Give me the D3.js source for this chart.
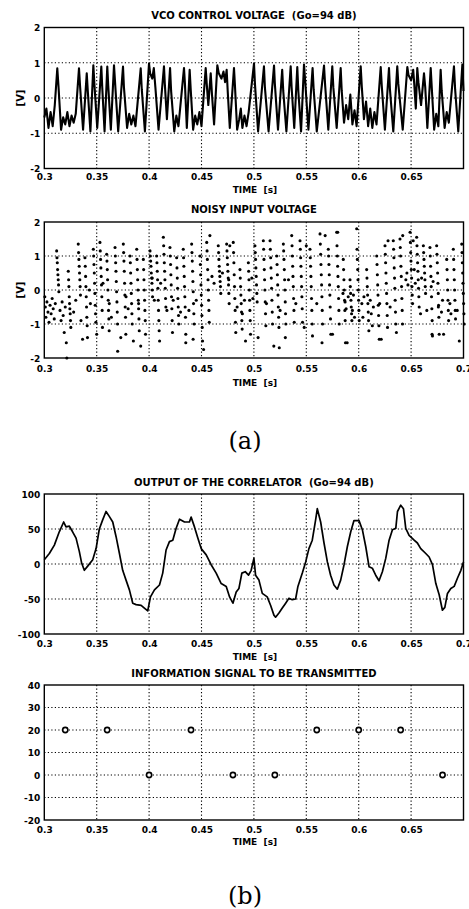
<!DOCTYPE html>
<html><head><meta charset="utf-8">
<script src="https://cdnjs.cloudflare.com/ajax/libs/d3/7.8.5/d3.min.js"></script>
<style>
html,body{margin:0;padding:0;background:#fff;}
svg{display:block;}
text{font-family:"DejaVu Sans",sans-serif;font-weight:bold;fill:#000;white-space:pre;}
</style></head><body>
<script>
// ---------- DATA ----------
const xTicks = [0.3,0.35,0.4,0.45,0.5,0.55,0.6,0.65,0.7];
const xTickLabels = ["0.3","0.35","0.4","0.45","0.5","0.55","0.6","0.65","0.7"];
const voltTicks = [-2,-1,0,1,2];
const corrTicks = [-100,-50,0,50,100];
const infoTicks = [-20,-10,0,10,20,30,40];

// VCO control voltage (vertices of the trace)
const vcoT = [0.3000,0.3020,0.3040,0.3060,0.3080,0.3100,0.3124,0.3135,0.3160,0.3180,0.3200,0.3220,0.3240,0.3260,0.3280,0.3300,
0.3331,0.3342,0.3370,0.3405,0.3415,0.3440,0.3468,0.3478,0.3505,0.3544,0.3553,0.3575,0.3601,0.3610,0.3635,0.3665,0.3675,0.3705,
0.3751,0.3760,0.3790,0.3810,0.3830,0.3850,0.3870,0.3920,0.3930,0.3960,0.3999,0.4010,0.4030,0.4045,0.4060,0.4090,0.4142,0.4150,
0.4170,0.4200,0.4210,0.4240,0.4260,0.4280,0.4333,0.4342,0.4360,0.4387,0.4397,0.4420,0.4440,0.4460,0.4480,0.4500,0.4540,0.4550,
0.4565,0.4588,0.4600,0.4620,0.4651,0.4665,0.4690,0.4710,0.4725,0.4740,0.4750,0.4770,0.4810,0.4820,0.4840,0.4860,0.4875,0.4890,
0.4910,0.4930,0.4950,0.5001,0.5010,0.5040,0.5096,0.5105,0.5140,0.5192,0.5200,0.5230,0.5270,0.5280,0.5310,0.5351,0.5360,0.5385,
0.5414,0.5424,0.5450,0.5478,0.5490,0.5520,0.5560,0.5570,0.5600,0.5669,0.5680,0.5710,0.5748,0.5758,0.5790,0.5828,0.5838,0.5860,
0.5880,0.5900,0.5920,0.5940,0.5960,0.5980,0.6019,0.6030,0.6050,0.6070,0.6090,0.6110,0.6130,0.6150,0.6170,0.6210,0.6220,0.6250,
0.6289,0.6298,0.6330,0.6368,0.6378,0.6420,0.6464,0.6475,0.6500,0.6520,0.6530,0.6545,0.6559,0.6570,0.6595,0.6623,0.6635,0.6655,
0.6687,0.6697,0.6720,0.6740,0.6760,0.6782,0.6792,0.6820,0.6840,0.6860,0.6909,0.6920,0.6950,0.6989,0.7000];
const vcoV = [-0.55,-0.30,-0.85,-0.40,-0.80,-0.20,0.84,0.35,-0.90,-0.55,-0.75,-0.40,-0.80,-0.50,-0.70,-0.45,
0.84,0.30,-0.90,0.70,0.20,-0.95,0.93,0.40,-0.85,0.89,0.30,-0.95,0.89,0.35,-0.90,0.93,0.45,-0.95,
0.89,0.30,-0.85,-0.45,-0.75,-0.50,-0.80,0.84,0.25,-0.95,0.98,0.70,0.55,0.85,0.30,-0.90,0.90,0.40,
-0.60,0.85,0.20,-0.95,-0.50,-0.80,0.85,0.40,-0.85,0.80,0.25,-0.90,-0.50,-0.75,-0.40,-0.80,0.85,0.40,
-0.20,0.70,0.10,-0.75,0.93,0.70,0.55,0.75,0.45,0.80,0.20,-0.85,0.85,0.30,-0.90,-0.60,-0.30,-0.85,
-0.50,-0.80,-0.40,0.98,0.40,-0.95,0.90,0.30,-0.95,0.92,0.40,-0.90,0.80,0.20,-0.95,0.90,0.30,-0.85,
0.88,0.20,-0.95,0.95,0.45,-0.90,0.85,0.25,-0.95,0.92,0.35,-0.90,0.90,0.30,-0.85,0.85,0.20,-0.70,
-0.20,-0.60,0.10,-0.75,-0.35,-0.80,0.90,0.30,-0.60,-0.10,-0.80,-0.30,-0.85,-0.40,-0.75,0.88,0.35,-0.90,
0.85,0.25,-0.95,0.90,0.40,-0.90,0.88,0.65,0.50,0.80,0.40,-0.30,0.85,0.45,-0.20,0.70,0.30,-0.85,
0.85,0.30,-0.90,-0.45,-0.80,0.80,0.20,-0.85,-0.40,-0.70,0.90,0.25,-0.95,0.95,0.20];

// Noisy input voltage: streaks of consecutive samples (start time, values) ...
const noisySampleStep = 0.0003;
const noisyColT = [0.3118,0.3229,0.3324,0.3388,0.3468,0.3531,0.3595,0.3675,0.3754,0.3818,0.3882,0.3945,0.4009,0.4072,0.4136,
0.4199,0.4263,0.4326,0.4406,0.4486,0.4550,0.4660,0.4740,0.4803,0.4867,0.4947,0.5010,0.5090,0.5154,0.5218,0.5281,0.5361,0.5440,
0.5535,0.5631,0.5710,0.5790,0.5853,0.5917,0.5981,0.6076,0.6172,0.6251,0.6330,0.6394,0.6490,0.6553,0.6617,0.6680,0.6744,0.6840,
0.6903,0.6983];
const noisyColV = [
[1.15,0.95,0.8,0.6,0.45,0.3,0.15,-0.05],
[0.55,0.3,0.1,-0.2,-0.4,-0.55,-0.7,-0.9,-1.1],
[1.35,1.1,0.9,0.7,0.5,0.3,0.1,-0.15],
[0.95,0.7,0.4,0.1,-0.2,-0.5,-0.8,-1.05,-1.4],
[1.2,1.0,0.75,0.5,0.2,-0.1,-0.45,-0.7,-0.95],
[1.4,1.15,0.9,0.65,0.4,0.15,-0.2,-0.6,-1.1],
[1.05,0.85,0.6,0.3,0.0,-0.3,-0.6,-0.85,-1.2],
[1.25,1.0,0.8,0.55,0.25,-0.05,-0.35,-0.65,-1.0],
[1.35,1.1,0.85,0.55,0.2,-0.15,-0.5,-0.8,-1.3],
[1.0,0.8,0.5,0.2,-0.1,-0.4,-0.7,-1.0],
[1.2,0.9,0.6,0.3,0.0,-0.3,-0.55,-0.85,-1.2],
[0.9,0.6,0.3,0.0,-0.3,-0.6,-0.9,-1.3],
[1.15,1.0,0.85,0.7,0.5,0.35,0.2,0.0,-0.2],
[1.0,0.8,0.55,0.3,0.05,-0.3,-0.6,-0.9,-1.2],
[1.55,1.3,1.05,0.8,0.55,0.3,0.05,-0.25,-0.5],
[1.25,1.0,0.75,0.45,0.15,-0.2,-0.55,-0.9,-1.25],
[0.95,0.65,0.35,0.05,-0.25,-0.5,-0.75,-1.0],
[1.2,0.95,0.7,0.4,0.1,-0.2,-0.5,-0.8,-1.3],
[1.35,1.1,0.85,0.55,0.25,-0.05,-0.4,-0.7,-1.0],
[1.0,0.75,0.45,0.15,-0.15,-0.45,-0.75,-1.1,-1.5],
[1.4,1.15,0.9,0.6,0.3,0.0,-0.3,-0.6,-0.95],
[1.3,1.1,0.9,0.7,0.55,0.4,0.25,0.1,-0.1],
[1.35,1.15,0.95,0.75,0.55,0.35,0.15,-0.1,-0.4],
[1.4,1.1,0.8,0.45,0.1,-0.25,-0.6,-0.95,-1.25],
[0.6,0.35,0.1,-0.15,-0.4,-0.65,-0.9,-1.15],
[0.8,0.55,0.3,0.0,-0.3,-0.6,-0.9,-1.3],
[1.3,1.1,0.9,0.65,0.4,0.15,-0.1,-0.35],
[1.45,1.2,0.9,0.6,0.3,0.0,-0.35,-0.7,-1.05],
[1.45,1.2,0.95,0.65,0.35,0.05,-0.3,-0.65,-1.0],
[1.0,0.75,0.45,0.15,-0.15,-0.5,-0.8,-1.1,-1.7],
[1.35,1.15,0.9,0.6,0.3,0.0,-0.35,-0.7,-1.0],
[1.6,1.3,1.0,0.7,0.4,0.1,-0.25,-0.6,-0.95],
[1.45,1.2,0.95,0.7,0.4,0.1,-0.2,-0.55,-0.95],
[1.2,0.95,0.7,0.4,0.1,-0.25,-0.6,-1.0,-1.35],
[1.65,1.35,1.05,0.75,0.45,0.15,-0.2,-0.6,-1.0],
[1.2,1.0,0.75,0.45,0.15,-0.15,-0.5,-0.85,-1.3],
[1.7,1.3,1.0,0.7,0.4,0.1,-0.25,-0.6,-1.0],
[0.9,0.6,0.3,0.0,-0.3,-0.6,-0.9,-1.55],
[0.3,0.1,-0.1,-0.3,-0.5,-0.7,-0.9],
[1.8,1.2,0.9,0.6,0.3,0.0,-0.3,-0.6,-0.9],
[0.6,0.35,0.1,-0.15,-0.4,-0.65,-0.9,-1.2],
[1.0,0.75,0.45,0.15,-0.15,-0.45,-0.75,-1.05,-1.45],
[1.3,1.05,0.8,0.5,0.2,-0.1,-0.4,-0.75,-1.1],
[1.45,1.2,0.95,0.65,0.35,0.05,-0.3,-0.65,-1.0],
[1.5,1.25,1.0,0.7,0.4,0.1,-0.25,-0.6,-1.0],
[1.7,1.4,1.1,0.85,0.6,0.35,0.1,-0.15,-0.4],
[1.55,1.3,1.05,0.8,0.55,0.3,0.05,-0.2,-0.5],
[1.3,1.1,0.9,0.7,0.5,0.3,0.1,-0.1],
[1.25,1.0,0.7,0.4,0.1,-0.2,-0.55,-0.9,-1.35],
[1.3,1.05,0.8,0.5,0.2,-0.1,-0.45,-0.8,-1.3],
[0.9,0.6,0.3,0.0,-0.3,-0.6,-0.9],
[1.2,0.9,0.6,0.3,0.0,-0.3,-0.6,-0.85],
[1.35,1.1,0.8,0.5,0.2,-0.1,-0.4,-0.7,-1.0]];
// ... plus isolated samples
const noisyPtT = [0.3005,0.3010,0.3015,0.3025,0.3035,0.3045,0.3055,0.3065,0.3075,0.3085,0.3095,0.3105,0.3150,0.3160,0.3170,0.3180,
0.3190,0.3200,0.3210,0.3215,0.3280,0.3300,0.3350,0.3365,0.3430,0.3440,0.3500,0.3560,0.3620,0.3640,0.3700,0.3730,0.3780,0.3800,
0.3850,0.3900,0.3920,0.4030,0.4050,0.4100,0.4110,0.4170,0.4230,0.4300,0.4350,0.4380,0.4420,0.4450,0.4520,0.4580,0.4600,0.4620,
0.4700,0.4760,0.4770,0.4840,0.4890,0.4910,0.4920,0.4980,0.4990,0.5040,0.5120,0.5190,0.5250,0.5300,0.5330,0.5400,0.5480,0.5500,
0.5600,0.5650,0.5680,0.5750,0.5800,0.5850,0.5870,0.5880,0.5890,0.5900,0.5940,0.5950,0.5960,0.6030,0.6040,0.6050,0.6110,0.6120,
0.6130,0.6140,0.6200,0.6215,0.6280,0.6300,0.6360,0.6420,0.6450,0.6460,0.6470,0.6520,0.6530,0.6540,0.6590,0.6600,0.6650,0.6700,
0.6710,0.6760,0.6790,0.6800,0.6810,0.6870,0.6880,0.6940,0.6960];
const noisyPtV = [-0.2,-0.5,-0.8,-0.35,-0.65,-0.95,-0.45,-0.7,-0.25,-0.55,-0.85,-0.4,-0.6,-0.9,-0.35,-0.75,
-1.25,-0.5,-1.55,-2.0,-0.65,-0.3,-0.9,-1.45,0.0,-0.4,-1.3,0.2,-0.4,-0.8,-1.8,-1.4,-0.2,-0.55,
-1.5,-0.4,-1.65,0.35,-0.3,-1.5,0.2,-0.6,-0.3,-0.65,-1.55,-0.6,-1.45,-0.3,-1.75,1.6,0.4,0.2,
0.5,0.3,1.3,-0.5,-0.7,-0.3,-1.5,0.35,-0.25,-1.4,-0.4,-1.65,-0.6,-1.4,0.3,-0.4,-1.1,1.3,
-0.4,-1.55,1.6,-1.3,1.7,-0.1,-0.35,-0.55,-1.55,-0.2,-0.6,-0.15,-0.8,-0.4,-0.8,-0.2,-0.3,-0.7,
-1.05,-0.5,-0.4,-1.45,1.45,-0.5,-1.25,1.6,0.3,0.5,0.15,1.45,0.6,0.2,-0.7,0.35,-0.6,-1.3,
0.25,-0.5,-0.65,-0.3,-1.3,-0.4,-0.7,-0.6,-1.5];

// Output of the correlator
const corrT = [0.3000,0.3048,0.3096,0.3143,0.3185,0.3207,0.3239,0.3270,0.3303,0.3334,0.3357,0.3382,0.3414,0.3462,0.3494,0.3525,
0.3557,0.3589,0.3620,0.3653,0.3685,0.3717,0.3748,0.3780,0.3812,0.3844,0.3876,0.3924,0.3955,0.3987,0.4013,0.4051,0.4099,0.4130,
0.4162,0.4194,0.4226,0.4258,0.4290,0.4338,0.4385,0.4401,0.4433,0.4465,0.4497,0.4545,0.4592,0.4640,0.4688,0.4736,0.4768,0.4800,
0.4831,0.4857,0.4885,0.4917,0.4949,0.4974,0.5000,0.5016,0.5048,0.5080,0.5127,0.5159,0.5191,0.5207,0.5239,0.5271,0.5303,0.5334,
0.5366,0.5398,0.5420,0.5462,0.5494,0.5525,0.5557,0.5589,0.5605,0.5637,0.5669,0.5701,0.5732,0.5764,0.5796,0.5828,0.5860,0.5892,
0.5924,0.5955,0.6003,0.6035,0.6067,0.6099,0.6130,0.6162,0.6194,0.6226,0.6258,0.6290,0.6322,0.6354,0.6370,0.6401,0.6427,0.6449,
0.6481,0.6529,0.6560,0.6592,0.6640,0.6672,0.6704,0.6736,0.6768,0.6799,0.6822,0.6847,0.6879,0.6911,0.6943,0.6975,0.7000];
const corrV = [6,15,27,46,60,53,54,46,37,18,1,-9,-3,6,22,50,
63,75,68,60,39,15,-9,-23,-37,-56,-58,-59,-63,-67,-47,-37,-30,-13,
20,32,34,51,64,60,60,67,53,37,22,13,-1,-13,-28,-32,-47,-56,
-40,-35,-13,-11,-16,-9,8,-16,-23,-42,-47,-59,-73,-76,-70,-63,-56,-49,
-51,-50,-32,-13,3,22,34,63,79,60,30,3,-16,-30,-36,-23,-1,25,
46,62,62,49,25,-4,-6,-16,-24,-11,8,34,49,51,75,84,79,51,
41,34,30,22,15,10,-1,-28,-44,-66,-62,-42,-35,-32,-20,-9,3];

// Information signal to be transmitted
const infoT = [0.32,0.36,0.40,0.44,0.48,0.52,0.56,0.60,0.64,0.68];
const infoV = [20,20,0,20,0,0,20,20,20,0];

// ---------- DRAWING ----------
const W = 469, H = 909;
const svg = d3.select("body").append("svg").attr("width", W).attr("height", H);
const L = 44.3, R = 463.5, midX = (L + R) / 2;
const x = d3.scaleLinear().domain([0.3, 0.7]).range([L, R]);

function panel(o) {
  const y = d3.scaleLinear().domain(o.yDomain).range([o.bottom, o.top]);
  const g = svg.append("g");
  // grid
  const gx = xTicks.filter(t => t > 0.3 && t < 0.7);
  g.selectAll(null).data(gx).enter().append("line")
    .attr("x1", d => x(d)).attr("x2", d => x(d)).attr("y1", o.top).attr("y2", o.bottom)
    .attr("stroke", "#000").attr("stroke-width", 1.1).attr("stroke-dasharray", "1.2,2.3");
  const gy = o.yTicks.filter(t => t > o.yDomain[0] && t < o.yDomain[1]);
  g.selectAll(null).data(gy).enter().append("line")
    .attr("x1", L).attr("x2", R).attr("y1", d => y(d)).attr("y2", d => y(d))
    .attr("stroke", "#000").attr("stroke-width", 1.1).attr("stroke-dasharray", "1.2,2.3");
  // axes (labels)
  const ax = d3.axisBottom(x).tickValues(o.showLast ? xTicks : xTicks.slice(0, -1))
    .tickSize(0).tickPadding(0).tickFormat(d => xTickLabels[xTicks.indexOf(d)]);
  const axG = g.append("g").attr("transform", `translate(0,${o.bottom})`).call(ax);
  axG.select(".domain").remove();
  axG.selectAll("text").attr("dy", null).attr("y", o.xlabOff)
    .style("font-family", '"DejaVu Sans",sans-serif').style("font-weight", "bold").style("font-size", "9px");
  const ay = d3.axisLeft(y).tickValues(o.yTicks).tickSize(0).tickPadding(0)
    .tickFormat(d => String(d).replace("−", "-"));
  const ayG = g.append("g").attr("transform", `translate(${L - 4},0)`).call(ay);
  ayG.select(".domain").remove();
  ayG.selectAll("text").attr("dy", "0.36em")
    .style("font-family", '"DejaVu Sans",sans-serif').style("font-weight", "bold").style("font-size", "9px");
  // title & labels
  g.append("text").attr("x", midX).attr("y", o.titleY).attr("text-anchor", "middle")
    .style("font-size", "10px").text(o.title);
  g.append("text").attr("x", midX + 1).attr("y", o.bottom + o.timeOff).attr("text-anchor", "middle")
    .style("font-size", "9px").text("TIME  [s]");
  if (o.ylabel) {
    g.append("text").attr("transform", `translate(24,${(o.top + o.bottom) / 2}) rotate(-90)`)
      .attr("text-anchor", "middle").style("font-size", "10px").text(o.ylabel);
  }
  const plot = g.append("g");
  // frame
  g.append("rect").attr("x", L).attr("y", o.top).attr("width", R - L).attr("height", o.bottom - o.top)
    .attr("fill", "none").attr("stroke", "#000").attr("stroke-width", 1.4);
  return { y, plot };
}

// Panel 1: VCO control voltage
const p1 = panel({ top: 27.5, bottom: 168.5, yDomain: [-2, 2], yTicks: voltTicks, showLast: false,
  xlabOff: 11.5, timeOff: 24, titleY: 19, title: "VCO CONTROL VOLTAGE  (Go=94 dB)", ylabel: "[V]" });
const vcoData = vcoT.map((t, i) => [t, vcoV[i]]);
p1.plot.append("path").datum(vcoData)
  .attr("d", d3.line().x(d => x(d[0])).y(d => p1.y(d[1])))
  .attr("fill", "none").attr("stroke", "#000").attr("stroke-width", 2.1).attr("stroke-linejoin", "round");

// Panel 2: Noisy input voltage
const p2 = panel({ top: 222, bottom: 358, yDomain: [-2, 2], yTicks: voltTicks, showLast: true,
  xlabOff: 14, timeOff: 28, titleY: 212.5, title: "NOISY INPUT VOLTAGE", ylabel: "[V]" });
const noisyData = [];
noisyColT.forEach((t0, c) => noisyColV[c].forEach((v, k) => noisyData.push([t0 + k * noisySampleStep, v])));
noisyPtT.forEach((t, i) => noisyData.push([t, noisyPtV[i]]));
p2.plot.selectAll(null).data(noisyData).enter().append("circle")
  .attr("cx", d => x(d[0])).attr("cy", d => p2.y(d[1])).attr("r", 1.55).attr("fill", "#000");

// (a)
svg.append("text").attr("x", 245).attr("y", 448.5).attr("text-anchor", "middle")
  .style("font-family", '"DejaVu Serif",serif').style("font-weight", "normal").style("font-size", "24px").text("(a)");

// Panel 3: Correlator
const p3 = panel({ top: 494, bottom: 634, yDomain: [-100, 100], yTicks: corrTicks, showLast: true,
  xlabOff: 13, timeOff: 26, titleY: 486, title: "OUTPUT OF THE CORRELATOR  (Go=94 dB)", ylabel: null });
const corrData = corrT.map((t, i) => [t, corrV[i]]);
p3.plot.append("path").datum(corrData)
  .attr("d", d3.line().x(d => x(d[0])).y(d => p3.y(d[1])))
  .attr("fill", "none").attr("stroke", "#000").attr("stroke-width", 1.7).attr("stroke-linejoin", "round");

// Panel 4: Information signal
const p4 = panel({ top: 685, bottom: 820, yDomain: [-20, 40], yTicks: infoTicks, showLast: false,
  xlabOff: 13, timeOff: 25, titleY: 676.5, title: "INFORMATION SIGNAL TO BE TRANSMITTED", ylabel: null });
p4.plot.selectAll(null).data(infoT.map((t, i) => [t, infoV[i]])).enter().append("circle")
  .attr("cx", d => x(d[0])).attr("cy", d => p4.y(d[1])).attr("r", 2.6)
  .attr("fill", "#fff").attr("stroke", "#000").attr("stroke-width", 1.6);

// (b)
svg.append("text").attr("x", 245).attr("y", 903.5).attr("text-anchor", "middle")
  .style("font-family", '"DejaVu Serif",serif').style("font-weight", "normal").style("font-size", "24px").text("(b)");
</script>
</body></html>
